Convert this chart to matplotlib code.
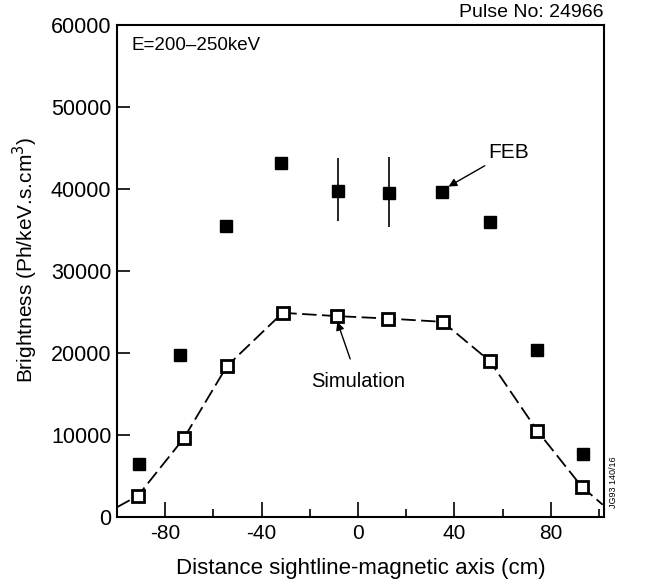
import matplotlib
matplotlib.use("Agg")
import matplotlib.pyplot as plt
from matplotlib.ticker import MultipleLocator

plt.rcParams['font.family'] = ['Liberation Sans', 'DejaVu Sans']
plt.rcParams['axes.unicode_minus'] = False

# FEB measurements (filled squares)
feb_x = [-90.7, -73.7, -54.8, -31.8, -8.5, 12.8, 34.7, 54.7, 74.4, 93.2]
feb_y = [6500, 19700, 35500, 43200, 39800, 39500, 39600, 36000, 20400, 7700]
# error bars for the two central points
err_x = [-8.5, 12.8]
err_y = [39800, 39500]
err_lo = [3700, 4100]
err_hi = [4000, 4400]

# Simulation (open squares)
sim_x = [-91.3, -72.3, -54.4, -31.3, -8.8, 12.5, 35.1, 54.7, 74.4, 92.8]
sim_y = [2600, 9600, 18400, 24900, 24500, 24200, 23800, 19000, 10500, 3700]
# dashed curve extension to axis edges
curve_x = [-100] + sim_x + [101.5]
curve_y = [1200] + sim_y + [1500]

x_ticks = [-80, -40, 0, 40, 80]
y_ticks = [0, 10000, 20000, 30000, 40000, 50000, 60000]

fig = plt.figure(figsize=(6.48, 5.85), dpi=100)
ax = fig.add_axes([0.1806, 0.1162, 0.7514, 0.8411])

ax.plot(curve_x, curve_y, color='black', lw=1.3, dashes=(8, 3), zorder=2)
ax.plot(sim_x, sim_y, 's', ms=8, mfc='white', mec='black', mew=2, zorder=3, linestyle='none')
ax.errorbar(err_x, err_y, yerr=[err_lo, err_hi], fmt='none', ecolor='black', elinewidth=1.2, capsize=0, zorder=2)
ax.plot(feb_x, feb_y, 's', ms=8.5, color='black', zorder=3, linestyle='none')

ax.set_xlim(-100, 102)
ax.set_ylim(0, 60000)
ax.set_xticks(x_ticks)
ax.set_yticks(y_ticks)
ax.xaxis.set_minor_locator(MultipleLocator(20))
ax.tick_params(axis='x', which='major', direction='in', length=11, width=1.2, labelsize=15, pad=5)
ax.tick_params(axis='x', which='minor', direction='in', length=6, width=1.2)
ax.tick_params(axis='y', which='major', direction='in', length=9, width=1.2, labelsize=15.5, pad=4)
ax.tick_params(top=False, right=False)
for s in ax.spines.values():
    s.set_linewidth(1.5)

ax.set_xlabel('Distance sightline-magnetic axis (cm)', fontsize=16)
ax.xaxis.set_label_coords(0.5, -0.083)
ax.set_ylabel('Brightness (Ph/keV.s.cm$^3$)', fontsize=15)
ax.yaxis.set_label_coords(-0.158, 0.522)

ax.text(0.03, 0.975, 'E=200\u2013250keV', transform=ax.transAxes, fontsize=13.5, va='top', ha='left')
fig.text(0.932, 0.979, 'Pulse No: 24966', fontsize=14, ha='right', va='center')

ax.annotate('FEB', xy=(37.5, 40300), xytext=(54, 44500), fontsize=15, ha='left', va='center',
            arrowprops=dict(arrowstyle='-|>', color='black', lw=1, shrinkA=2, shrinkB=0, mutation_scale=12))
ax.annotate('Simulation', xy=(-8.6, 23800), xytext=(0, 16500), fontsize=14.5, ha='center', va='center',
            arrowprops=dict(arrowstyle='-|>', color='black', lw=1, shrinkA=8, shrinkB=0, mutation_scale=12))

fig.text(0.946, 0.175, 'JG93 140/16', fontsize=6.5, rotation=90, ha='center', va='center')

fig.savefig('out.png', dpi=100)
